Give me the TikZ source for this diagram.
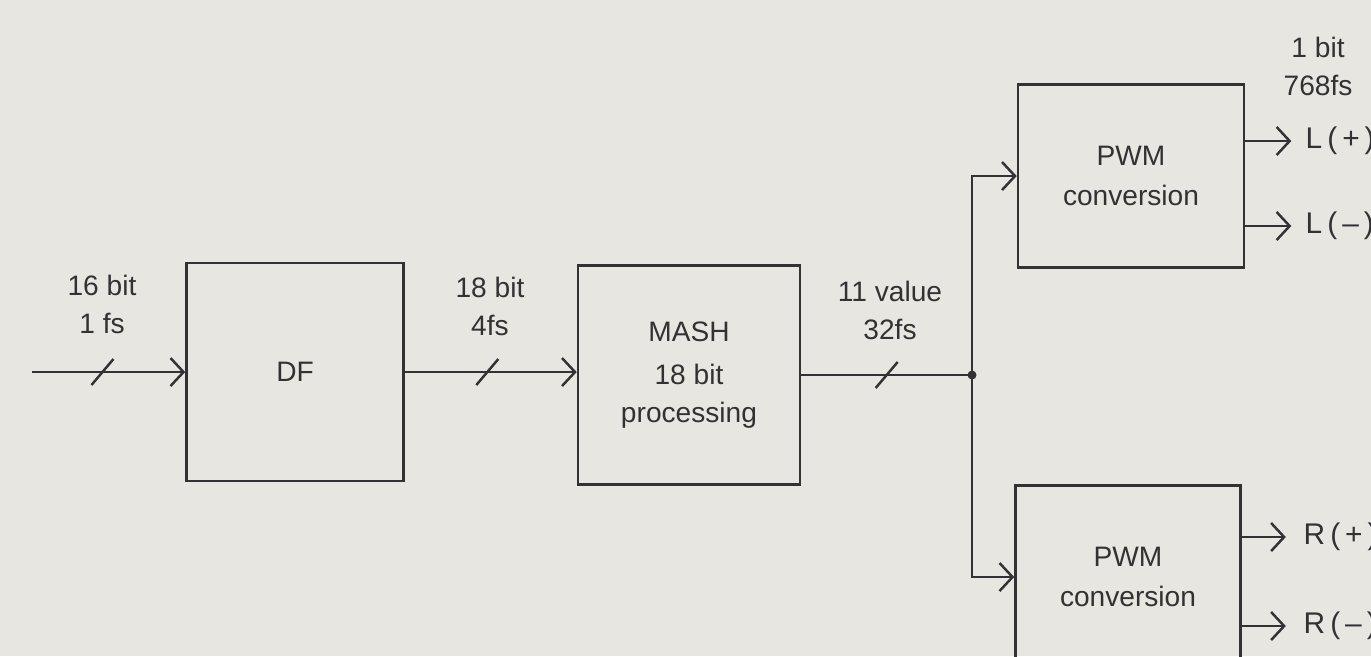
\documentclass[tikz,border=0pt]{standalone}
\usepackage{fontspec}
\setmainfont{Liberation Sans}
\usetikzlibrary{arrows.meta,positioning,calc}
\definecolor{fpaper}{HTML}{E8E6E1}
\definecolor{fink}{HTML}{353034}
\tikzset{
  blockbox/.style={draw=fink, line width=0.7pt, inner sep=0pt, align=center,
    text=fink, font=\fontsize{8}{10.8}\selectfont},
  sig/.style={draw=fink, line width=0.7pt},
  sigarr/.style={sig, -{Straight Barb[length=1.3mm, width=2.8mm]}},
  buslabel/.style={text=fink, align=center, font=\fontsize{8}{10.8}\selectfont},
  outlabel/.style={text=fink, anchor=west, inner sep=0pt, font=\fontsize{8.5}{10}\selectfont}
}
\begin{document}
\begin{tikzpicture}[x=0.01cm, y=-0.01cm]
\fill[fpaper] (0,0) rectangle (1371,656);
\useasboundingbox (0,0) rectangle (1371,656);
% blocks
\node[blockbox, minimum width=2.17cm, minimum height=2.18cm] (df) at (295,372) {DF};
\node[blockbox, minimum width=2.22cm, minimum height=2.19cm] (mash) at (689,375)
   {MASH\\[0.05cm]18 bit\\processing};
\node[blockbox, minimum width=2.26cm, minimum height=1.83cm] (pwmL) at (1131,176)
   {PWM\\[0.02cm]conversion};
\node[blockbox, minimum width=2.25cm, minimum height=1.83cm] (pwmR) at (1128,577)
   {PWM\\[0.02cm]conversion};
% input and buses
\coordinate (in) at (32,372);
\coordinate (jn) at (972,375);
\draw[sigarr] (in) -- (df.west);
\draw[sigarr] (df.east) -- (df.east -| mash.west);
\draw[sig] (mash.east) -- (jn);
\fill[fink] (jn) circle (0.045cm);
\draw[sigarr] (jn) |- (pwmL.west);
\draw[sigarr] (jn) |- (pwmR.west);
% bus width marks
\draw[sig] ($(in)!0.46!(df.west)$) ++(-11,13) -- ++(22,-26);
\draw[sig] ($(df.east)!0.48!(df.east -| mash.west)$) ++(-11,13) -- ++(22,-26);
\draw[sig] ($(mash.east)!0.50!(jn)$) ++(-11,13) -- ++(22,-26);
% bus labels
\node[buslabel] (lbin) at (102,304) {16 bit\\1 fs};
\node[buslabel] (lbdf) at (490,306) {18 bit\\4fs};
\node[buslabel] (lbmash) at (890,310) {11 value\\32fs};
\node[buslabel] (lbout) at (1318,66) {1 bit\\768fs};
% outputs
\node[outlabel] (lp) at (1305,141) {L\,(\,+\,)};
\node[outlabel] (lm) at (1305,226) {L\,(\,--\,)};
\node[outlabel] (rp) at (1303,537) {R\,(\,+\,)};
\node[outlabel] (rm) at (1303,626) {R\,(\,--\,)};
\draw[sigarr] (pwmL.east |- lp) -- ++(46,0);
\draw[sigarr] (pwmL.east |- lm) -- ++(46,0);
\draw[sigarr] (pwmR.east |- rp) -- ++(44,0);
\draw[sigarr] (pwmR.east |- rm) -- ++(44,0);
\end{tikzpicture}
\end{document}
